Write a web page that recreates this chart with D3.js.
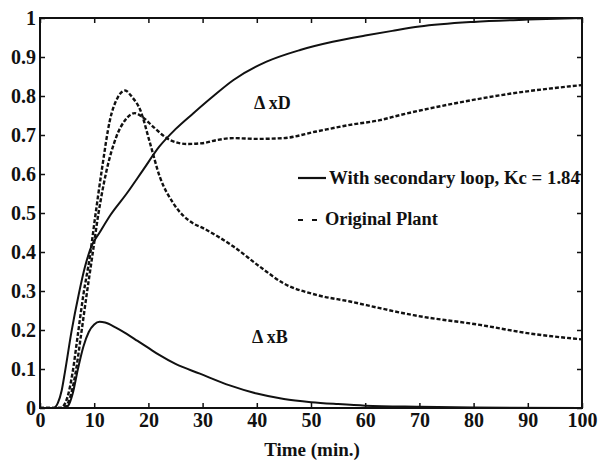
<!DOCTYPE html>
<html>
<head>
<meta charset="utf-8">
<script src="https://cdn.jsdelivr.net/npm/d3@7/dist/d3.min.js"></script>
</head>
<body style="margin:0;background:#fff">
<svg id="chart" width="600" height="461" style="display:block"></svg>
<script>
// ---- data ----
const xTicks = [0, 10, 20, 30, 40, 50, 60, 70, 80, 90, 100];
const yTicks = [0, 0.1, 0.2, 0.3, 0.4, 0.5, 0.6, 0.7, 0.8, 0.9, 1];
const yTickLabels = ["0", "0.1", "0.2", "0.3", "0.4", "0.5", "0.6", "0.7", "0.8", "0.9", "1"];

// ΔxD, with secondary loop (solid)
const xdLoopT = [0, 2.5, 3.3, 4, 4.6, 5.8, 7.2, 8.3, 9.5, 11, 13, 16, 19, 22, 25, 28.3, 32, 35.7, 41.8, 48, 54, 60, 65, 70, 80, 90, 100];
const xdLoopV = [0, 0, 0.013, 0.045, 0.092, 0.195, 0.295, 0.362, 0.415, 0.45, 0.495, 0.55, 0.61, 0.67, 0.715, 0.756, 0.8, 0.841, 0.888, 0.918, 0.939, 0.955, 0.967, 0.978, 0.99, 0.996, 1.0];

// ΔxB, with secondary loop (solid)
const xbLoopT = [0, 4.5, 5.3, 6, 7, 8, 9, 10, 11, 12, 14, 16, 18, 20, 22, 25, 29.5, 35, 40, 45, 50, 55, 60, 70, 80, 100];
const xbLoopV = [0, 0, 0.008, 0.035, 0.1, 0.157, 0.195, 0.214, 0.221, 0.219, 0.206, 0.19, 0.172, 0.154, 0.136, 0.113, 0.088, 0.058, 0.037, 0.023, 0.015, 0.01, 0.006, 0.003, 0.001, 0];

// Original plant, higher peak (dashed)
const origAT = [0, 3.8, 5, 6, 7, 8, 9.2, 10.1, 11.4, 12.9, 14.3, 15.7, 17, 18.5, 20.3, 22.1, 24.6, 28.3, 30, 32.9, 35.7, 40.6, 44.9, 51, 57.2, 62.7, 68.9, 81.2, 90.4, 100];
const origAV = [0, 0, 0.025, 0.09, 0.19, 0.29, 0.388, 0.482, 0.61, 0.738, 0.795, 0.814, 0.797, 0.764, 0.679, 0.593, 0.525, 0.473, 0.462, 0.439, 0.414, 0.362, 0.32, 0.29, 0.273, 0.256, 0.238, 0.213, 0.191, 0.176];

// Original plant, lower peak (dashed)
const origBT = [0, 4.3, 5.5, 6.5, 7.6, 8.6, 9.6, 10.8, 12.3, 14.1, 15.7, 17.5, 19, 20.9, 24, 27.1, 30, 32.6, 35.7, 40, 44.9, 51, 57.2, 62.7, 66.4, 75, 87.3, 100];
const origBV = [0, 0, 0.025, 0.085, 0.19, 0.29, 0.385, 0.5, 0.61, 0.696, 0.738, 0.756, 0.745, 0.721, 0.687, 0.677, 0.679, 0.687, 0.692, 0.69, 0.692, 0.709, 0.726, 0.738, 0.751, 0.777, 0.807, 0.828];

// ---- chart ----
const svg = d3.select("#chart");
const L = 40, R = 582, T = 18, B = 408;
const x = d3.scaleLinear().domain([0, 100]).range([L, R]);
const y = d3.scaleLinear().domain([0, 1]).range([B, T]);
const ink = "#111";
const FONT = '"Liberation Serif", "Times New Roman", Tinos, serif';

svg.append("defs").append("clipPath").attr("id", "clip")
  .append("rect").attr("x", L).attr("y", T - 2).attr("width", R - L).attr("height", B - T + 2);

const line = d3.line().x(d => x(d[0])).y(d => y(d[1])).curve(d3.curveMonotoneX);
const zip = (a, b) => a.map((t, i) => [t, b[i]]);

const curves = svg.append("g").attr("clip-path", "url(#clip)");
[[xdLoopT, xdLoopV, false], [xbLoopT, xbLoopV, false], [origAT, origAV, true], [origBT, origBV, true]]
  .forEach(([t, v, dashed]) => {
    curves.append("path")
      .attr("d", line(zip(t, v)))
      .attr("fill", "none")
      .attr("stroke", ink)
      .attr("stroke-width", dashed ? 2.4 : 2)
      .attr("stroke-dasharray", dashed ? "4,2" : null);
  });

// axes
function styleAxis(g) {
  g.selectAll(".domain").remove();
  g.selectAll(".tick line").attr("stroke", ink).attr("stroke-width", 1.5);
  g.selectAll(".tick text")
    .style("font-family", FONT).style("font-weight", "bold").style("font-size", "20px").attr("fill", ink);
}
svg.append("g").attr("transform", `translate(0,${B})`)
  .call(d3.axisBottom(x).tickValues(xTicks).tickSizeInner(-5).tickSizeOuter(0).tickPadding(5))
  .call(styleAxis);
svg.append("g").attr("transform", `translate(0,${T})`)
  .call(d3.axisTop(x).tickValues(xTicks).tickSizeInner(-5).tickSizeOuter(0).tickFormat(""))
  .call(styleAxis);
svg.append("g").attr("transform", `translate(${L},0)`)
  .call(d3.axisLeft(y).tickValues(yTicks).tickSizeInner(-5).tickSizeOuter(0).tickPadding(4)
    .tickFormat((d, i) => yTickLabels[i]))
  .call(styleAxis);
svg.append("g").attr("transform", `translate(${R},0)`)
  .call(d3.axisRight(y).tickValues(yTicks).tickSizeInner(-5).tickSizeOuter(0).tickFormat(""))
  .call(styleAxis);

svg.append("rect").attr("x", L).attr("y", T).attr("width", R - L).attr("height", B - T)
  .attr("fill", "none").attr("stroke", ink).attr("stroke-width", 2);

function label(xp, yp, size, txt, anchor) {
  return svg.append("text").attr("x", xp).attr("y", yp)
    .attr("text-anchor", anchor || "start")
    .style("font-family", FONT).style("font-weight", "bold").style("font-size", size + "px")
    .attr("fill", ink).text(txt);
}

// labels
label(312, 456, 19, "Time (min.)", "middle");
label(254, 109, 18, "Δ xD");
label(252, 343, 18, "Δ xB");

// legend
svg.append("line").attr("x1", 298).attr("x2", 326).attr("y1", 178).attr("y2", 178)
  .attr("stroke", ink).attr("stroke-width", 2.2);
label(329, 184, 18.8, "With secondary loop, Kc = 1.84");
svg.append("line").attr("x1", 298).attr("x2", 318).attr("y1", 220).attr("y2", 220)
  .attr("stroke", ink).attr("stroke-width", 2).attr("stroke-dasharray", "5,9");
label(325, 225, 18.4, "Original Plant");
</script>
</body>
</html>
